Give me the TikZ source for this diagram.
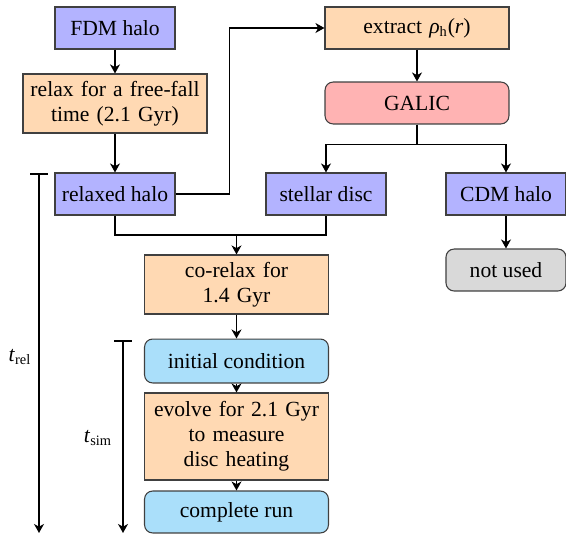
\documentclass[tikz,border=0pt]{standalone}
\usepackage{fontspec}
\setmainfont{LiberationSerif}[Extension=.ttf, UprightFont=*-Regular, ItalicFont=*-Italic, BoldFont=*-Bold, BoldItalicFont=*-BoldItalic]
\usepackage{xcolor}
\usetikzlibrary{shapes,arrows.meta,positioning,calc}

\definecolor{haloblue}{RGB}{179,179,255}
\definecolor{procorange}{RGB}{255,217,179}
\definecolor{galicred}{RGB}{255,179,179}
\definecolor{runblue}{RGB}{170,223,250}
\definecolor{unusedgray}{RGB}{217,217,217}

\begin{document}
\begin{tikzpicture}[
    x=0.5556pt, y=-0.5556pt,
    font=\fontsize{12}{14}\selectfont,
    box/.style={rectangle, draw=black!75, line width=0.6pt, align=center, inner sep=2pt, minimum height=23.3pt},
    halobox/.style={box, fill=haloblue, minimum width=66.7pt},
    procbox/.style={box, fill=procorange, minimum width=102.2pt, text width=96pt},
    galicbox/.style={box, fill=galicred, rounded corners=4.5pt, minimum width=102.2pt},
    runbox/.style={box, fill=runblue, rounded corners=4.5pt, minimum width=102.2pt},
    unusedbox/.style={box, fill=unusedgray, rounded corners=4.5pt, minimum width=66.7pt},
    line/.style={line width=1pt, draw=black},
    arrow/.style={line, -{Stealth[length=5pt, width=5.5pt, inset=1.5pt]}},
    timeline/.style={line, {Bar[width=10pt]}-{Stealth[length=5pt, width=5.5pt, inset=1.5pt]}}
]
    \useasboundingbox (0,0) rectangle (566,535);

    % left column
    \node [halobox] (fdm) at (115,28) {FDM halo};
    \node [procbox, minimum height=32.8pt] (relax) at (115,103.5) {relax for a free-fall\\time (2.1 Gyr)};
    \node [halobox] (relaxed) at (115,194) {relaxed halo};

    % right branch
    \node [procbox, minimum width=102.2pt] (extract) at (417,28) {extract \textit{ρ}\textsubscript{h}(\textit{r})};
    \node [galicbox] (galic) at (417,103) {GALIC};
    \node [halobox] (stellar) at (326,194) {stellar disc};
    \node [halobox] (cdm) at (506,194) {CDM halo};
    \node [unusedbox] (unused) at (506,270) {not used};

    % main run
    \node [procbox, minimum height=32.8pt] (corelax) at (236.5,284.5) {co-relax for\\1.4 Gyr};
    \node [runbox, minimum height=24.4pt] (initial) at (236.5,361) {initial condition};
    \node [procbox, minimum height=48.3pt] (evolve) at (236.5,436.5) {evolve for 2.1 Gyr\\to measure\\disc heating};
    \node [runbox] (complete) at (236.5,512) {complete run};

    \draw [arrow] (fdm) -- (relax);
    \draw [arrow] (relax) -- (relaxed);
    \draw [arrow] (relaxed.east) -- ++(54,0) |- (extract.west);
    \draw [arrow] (extract) -- (galic);
    \draw [arrow] (galic.south) -- ++(0,20) -| (stellar.north);
    \draw [arrow] (galic.south) -- ++(0,20) -| (cdm.north);
    \draw [arrow] (cdm) -- (unused);

    \coordinate (join) at (236.5,235);
    \draw [line] (relaxed.south) |- (join) -| (stellar.south);
    \draw [arrow] (join) -- (corelax);
    \draw [arrow] (corelax) -- (initial);
    \draw [arrow] (initial) -- (evolve);
    \draw [arrow] (evolve) -- (complete);

    % time axes
    \coordinate (relTop) at (39,173);
    \coordinate (relEnd) at (39,533);
    \coordinate (simTop) at (123,340);
    \coordinate (simEnd) at (123,533);
    \draw [timeline] (relTop) -- (relEnd);
    \draw [timeline] (simTop) -- (simEnd);
    \node (trel) at (20,357) {\textit{t}\textsubscript{rel}};
    \node (tsim) at (98,438) {\textit{t}\textsubscript{sim}};
\end{tikzpicture}
\end{document}
